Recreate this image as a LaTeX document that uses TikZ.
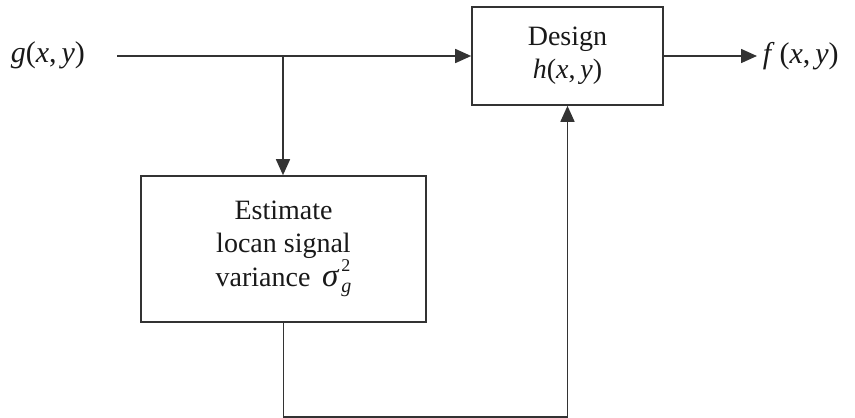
\documentclass[tikz,border=0pt]{standalone}
\usepackage{fontspec}
\setmainfont{Liberation Serif}
\usetikzlibrary{arrows.meta}
\newcommand{\sigmag}{{\fontsize{33}{33}\selectfont\textit{σ}}\hspace{2pt}\makebox[0pt][l]{\raisebox{15pt}{\fontsize{18}{18}\selectfont 2}}\raisebox{-6pt}{\fontsize{20}{20}\selectfont\textit{g}}}
\begin{document}
\begin{tikzpicture}[x=1pt,y=-1pt, line width=1.6pt, color=black!80, text=black!90,
  box/.style={draw, align=center, inner sep=0pt, font=\fontsize{28}{34}\selectfont},
  lbl/.style={inner sep=0pt, font=\fontsize{30}{36}\selectfont},
  arr/.style={-{Triangle[length=16pt,width=14pt]}}]
\useasboundingbox (0,0) rectangle (855,418);
\node[box, minimum width=191pt, minimum height=98pt] (design) at (567.5,56)
  {Design\\[-1pt]\textit{h}(\textit{x},\,\textit{y})};
\node[box, minimum width=285pt, minimum height=146pt, font=\fontsize{28}{33}\selectfont] (est) at (283.5,249)
  {\raisebox{3pt}{Estimate}\\\raisebox{3pt}{locan signal}\\\raisebox{2pt}{variance \,\sigmag}};
\node[lbl, anchor=base west] (g) at (10,62) {\textit{g}(\textit{x},\,\textit{y})};
\node[lbl, anchor=base west] (f) at (762,63) {\textit{f}\,(\textit{x},\,\textit{y})};
\coordinate (in) at (117,56);
\coordinate (br) at (283,56);
\coordinate (out) at (757,56);
\draw[arr] (in) -- (design.west);
\draw[arr] (br) -- (br |- est.north);
\draw[arr] (est.south) -- ++(0,94) -| (design.south);
\draw[arr] (design.east) -- (out);
\end{tikzpicture}
\end{document}
